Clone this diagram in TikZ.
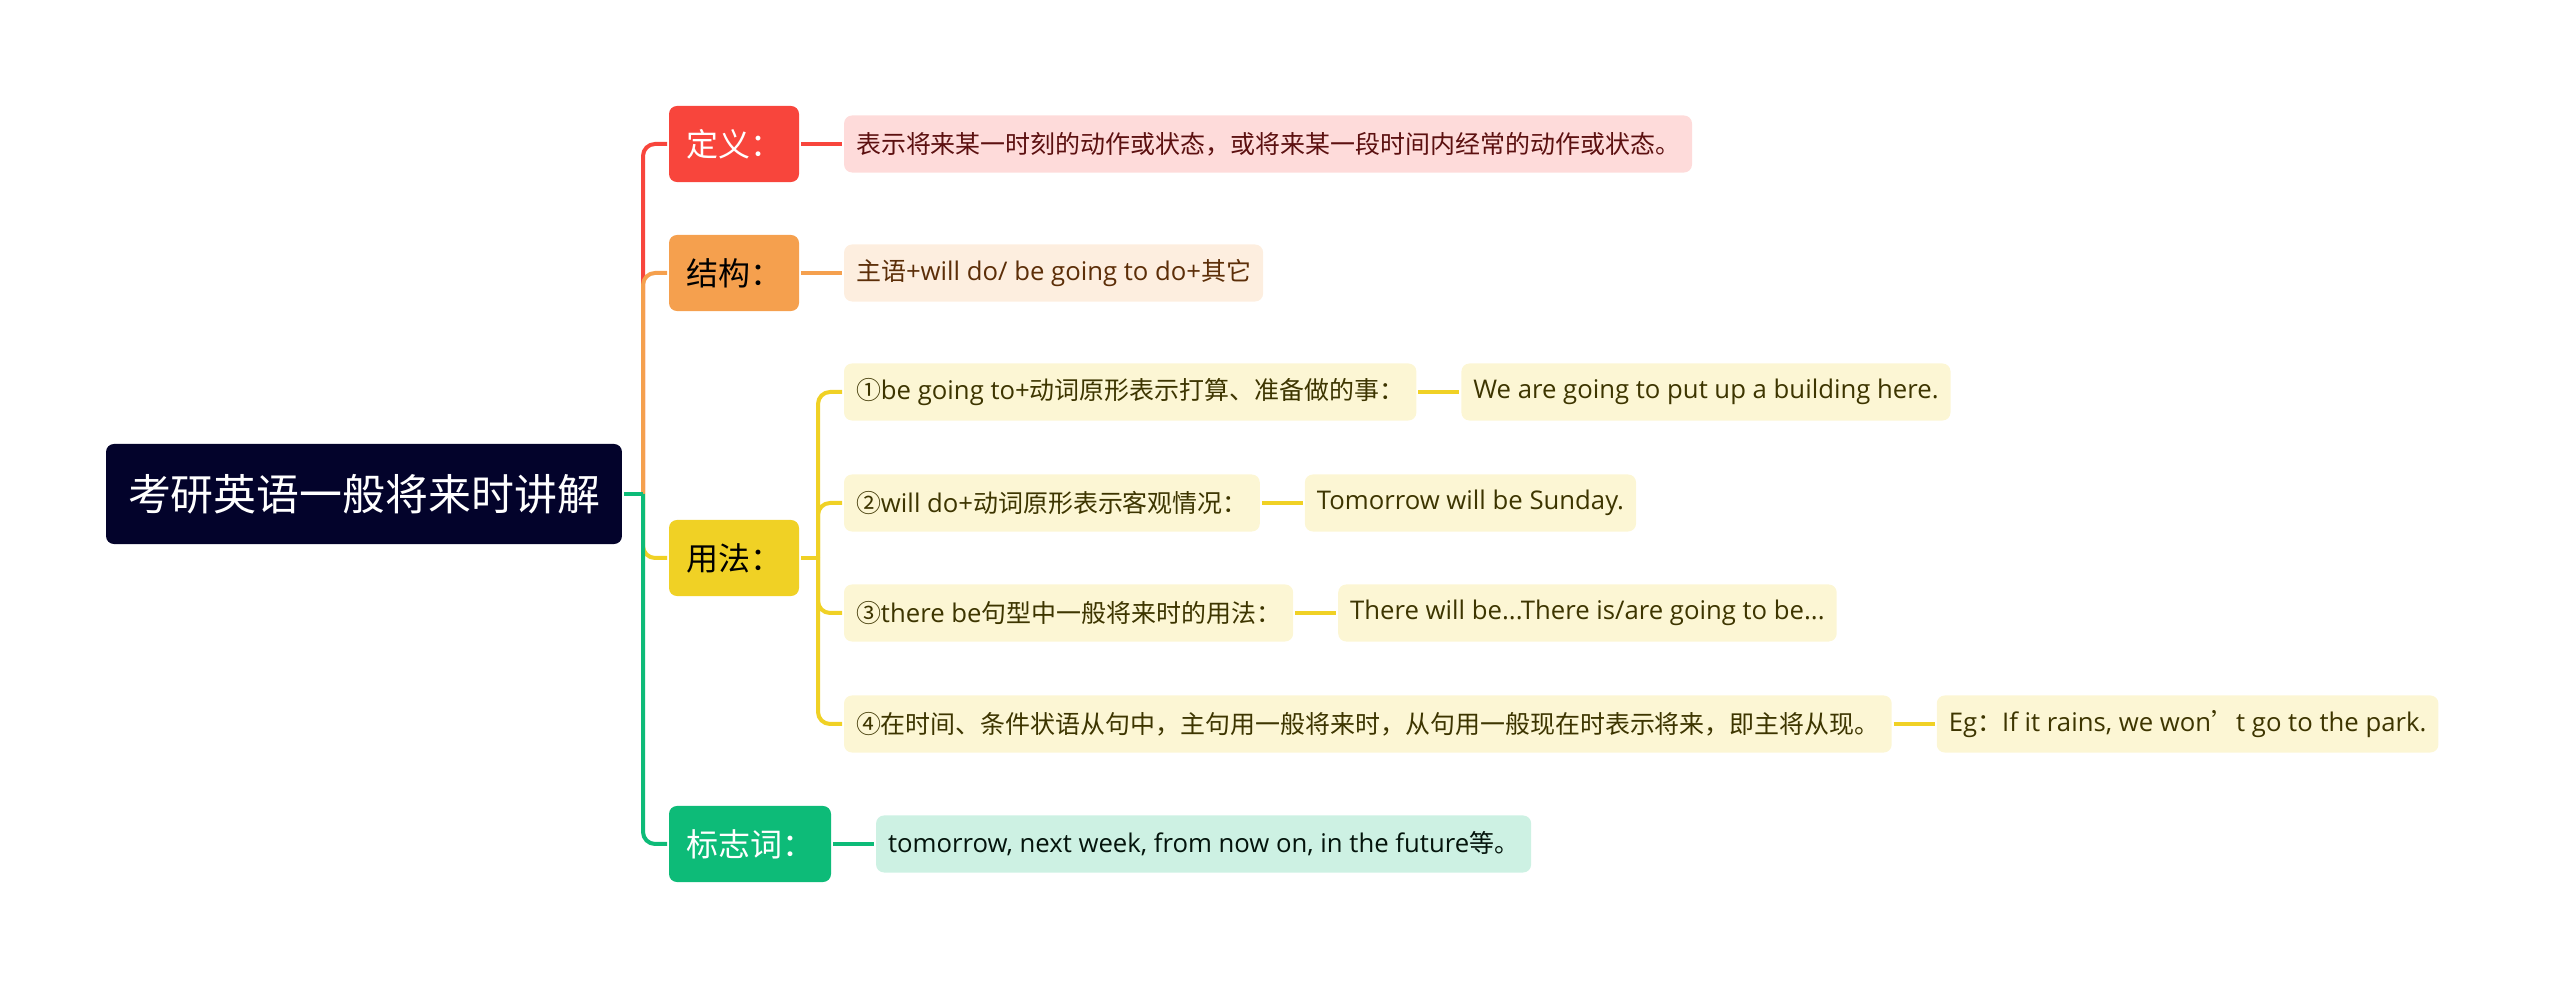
\documentclass[tikz,border=0pt]{standalone}
\usepackage{fontspec}
\setmainfont{Noto Sans CJK SC}
\newfontfamily\lat{Open Sans}[Scale=1.03]
\usetikzlibrary{positioning}

\definecolor{topicnavy}{HTML}{03032B}
\definecolor{defred}{HTML}{F8453C}
\definecolor{defpink}{HTML}{FEDBDA}
\definecolor{deftext}{HTML}{5C1010}
\definecolor{structorange}{HTML}{F5A04E}
\definecolor{structpale}{HTML}{FDEEDF}
\definecolor{structtext}{HTML}{5C2E08}
\definecolor{useyellow}{HTML}{F0D125}
\definecolor{usepale}{HTML}{FCF6D4}
\definecolor{usetext}{HTML}{3D3500}
\definecolor{markgreen}{HTML}{0DBB78}
\definecolor{markpale}{HTML}{CDF1E3}
\definecolor{marktext}{HTML}{04140C}

\begin{document}
\begin{tikzpicture}[x=0.01cm,y=-0.01cm,node distance=0.41cm,line width=0.04cm]

            \tikzstyle{topic}=[rounded corners=0.08cm,fill=topicnavy,text=white,font=\fontsize{12.2}{15}\selectfont,minimum height=1cm,inner xsep=0.22cm,inner ysep=0pt]
            \tikzstyle{branch}=[rounded corners=0.08cm,minimum height=0.76cm,inner xsep=0.17cm,inner ysep=0pt,font=\fontsize{9.1}{11}\selectfont,anchor=west]
            \tikzstyle{leaf}=[rounded corners=0.08cm,minimum height=0.57cm,inner xsep=0.12cm,inner ysep=0pt,font=\fontsize{7.1}{9}\selectfont]
            \tikzstyle{defleaf}=[leaf,fill=defpink,text=deftext]
            \tikzstyle{structleaf}=[leaf,fill=structpale,text=structtext]
            \tikzstyle{useleaf}=[leaf,fill=usepale,text=usetext]
            \tikzstyle{markleaf}=[leaf,fill=markpale,text=marktext]

            \useasboundingbox (0,0) rectangle (2560,989);

            \node[topic] (root) at (364,494) {考研英语一般将来时讲解};

            \node[branch,fill=defred,text=white]      (def)    at (667,144) {定义：};
            \node[branch,fill=structorange,text=black] (struct) at (667,273) {结构：};
            \node[branch,fill=useyellow,text=black]    (use)    at (667,558) {用法：};
            \node[branch,fill=markgreen,text=white]    (mark)   at (667,844) {标志词：};

            \node[defleaf]    (defl)    [right=of def]    {表示将来某一时刻的动作或状态，或将来某一段时间内经常的动作或状态。};
            \node[structleaf] (structl) [right=of struct] {主语{\lat+will do/ be going to do+}其它};
            \node[markleaf]   (markl)   [right=of mark]   {{\lat tomorrow, next week, from now on, in the future}等。};

            \node[useleaf,anchor=west] (use1) at (842,392) {①{\lat be going to+}动词原形表示打算、准备做的事：};
            \node[useleaf,anchor=west] (use2) at (842,503) {②{\lat will do+}动词原形表示客观情况：};
            \node[useleaf,anchor=west] (use3) at (842,613) {③{\lat there be}句型中一般将来时的用法：};
            \node[useleaf,anchor=west] (use4) at (842,724) {④在时间、条件状语从句中，主句用一般将来时，从句用一般现在时表示将来，即主将从现。};

            \node[useleaf] (eg1) [right=of use1] {\lat We are going to put up a building here.};
            \node[useleaf] (eg2) [right=of use2] {\lat Tomorrow will be Sunday.};
            \node[useleaf] (eg3) [right=of use3] {\lat There will be...There is/are going to be...};
            \node[useleaf] (eg4) [right=of use4] {{\lat Eg}：{\lat If it rains, we won}’{\lat t go to the park.}};

            \coordinate (j)  at (643,494);
            \coordinate (uj) at (818,558);

            % main trunk
            \draw[defred,rounded corners=0.12cm]       (j) |- (def.west);
            \draw[structorange,rounded corners=0.12cm] (j) |- (struct.west);
            \draw[useyellow,rounded corners=0.12cm]    (j) |- (use.west);
            \draw[markgreen,rounded corners=0.12cm]    (j) |- (mark.west);
            \draw[markgreen] (root.east) -- (j);

            \draw[defred]       (def)    -- (defl);
            \draw[structorange] (struct) -- (structl);
            \draw[markgreen]    (mark)   -- (markl);

            % usage sub-trunk
            \draw[useyellow] (use.east) -- (uj);
            \foreach \n in {1,...,4}
                \draw[useyellow,rounded corners=0.12cm] (uj) |- (use\n.west);
            \foreach \n in {1,...,4}
                \draw[useyellow] (use\n) -- (eg\n);
        \end{tikzpicture}
\end{document}
